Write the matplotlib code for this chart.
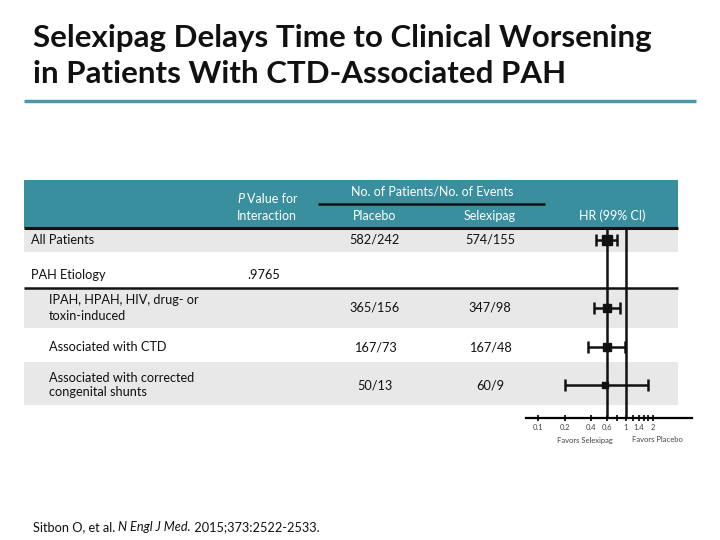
import matplotlib
matplotlib.use('Agg')
import matplotlib.pyplot as plt
from matplotlib.patches import Rectangle

plt.rcParams['font.family'] = ['Lato', 'DejaVu Sans']

# data
row_labels = ['All Patients', 'IPAH, HPAH, HIV, drug- or\ntoxin-induced',
              'Associated with CTD', 'Associated with corrected\ncongenital shunts']
placebo = ['582/242', '365/156', '167/73', '50/13']
selexipag = ['574/155', '347/98', '167/48', '60/9']
hr = [0.60, 0.61, 0.60, 0.58]
hr_lo = [0.45, 0.43, 0.37, 0.20]
hr_hi = [0.79, 0.86, 0.97, 1.79]
weight = [1.0, 0.62, 0.29, 0.10]
p_interaction = '.9765'
tick_vals = [0.1, 0.2, 0.4, 0.6, 0.8, 1, 1.2, 1.4, 1.6, 1.8, 2]
tick_labels = ['0.1', '0.2', '0.4', '0.6', '', '1', '', '1.4', '', '', '2']

# layout (pixels)
W, H = 720, 540
row_y = [240, 308, 347, 385]
teal = '#3a8f9e'
grey = '#e8e8e8'

fig = plt.figure(figsize=(7.2, 5.4), dpi=100)
bg = fig.add_axes([0, 0, 1, 1])
bg.set_xlim(0, W)
bg.set_ylim(H, 0)
bg.axis('off')

# title
bg.text(33, 47, 'Selexipag Delays Time to Clinical Worsening', fontsize=22.5,
        fontweight='bold', va='baseline', ha='left', color='#111111')
bg.text(33, 83, 'in Patients With CTD-Associated PAH', fontsize=22.5,
        fontweight='bold', va='baseline', ha='left', color='#111111')
bg.plot([24, 696], [101, 101], color='#4a9aa5', lw=2.5, solid_capstyle='butt')

# table background
bg.add_patch(Rectangle((24, 180), 654, 48, color=teal, lw=0))
for top, bot in [(228, 252), (288, 328), (362, 405)]:
    bg.add_patch(Rectangle((24, top), 654, bot - top, color=grey, lw=0))
bg.plot([24, 678], [228, 228], color='#111111', lw=2.2, solid_capstyle='butt')
bg.plot([24, 678], [288, 288], color='#111111', lw=1.8, solid_capstyle='butt')
bg.plot([318, 545], [204, 204], color='#111111', lw=1.8, solid_capstyle='butt')

# header text
hs = dict(color='white', fontsize=9, va='center')
bg.text(237, 199, 'P', style='italic', **hs)
bg.text(247, 199, 'Value for', **hs)
bg.text(237, 216, 'Interaction', ha='left', **hs)
bg.text(432, 192, 'No. of Patients/No. of Events', ha='center', **hs)
bg.text(375, 216, 'Placebo', ha='center', **hs)
bg.text(490, 216, 'Selexipag', ha='center', **hs)
bg.text(612, 216, 'HR (99% CI)', ha='center', **hs)

# rows
ts = dict(color='#111111', fontsize=9.2, va='center')
bg.text(31, row_y[0], row_labels[0], ha='left', **ts)
bg.text(31, 275, 'PAH Etiology', ha='left', **ts)
bg.text(247, 275, p_interaction, ha='left', **ts)
for i in range(len(row_labels)):
    if i > 0:
        bg.text(49, row_y[i], row_labels[i], ha='left', linespacing=1.3, **ts)
    bg.text(375, row_y[i], placebo[i], ha='center', **ts)
    bg.text(490, row_y[i], selexipag[i], ha='center', **ts)

# forest plot
ax = fig.add_axes([526 / W, 1 - 418 / H, (692 - 526) / W, (418 - 228) / H])
ax.set_facecolor('none')
ax.set_xscale('log')
ax.set_xlim(0.073, 5.62)
ax.set_ylim(418, 228)
for s in ['top', 'left', 'right']:
    ax.spines[s].set_visible(False)
ax.spines['bottom'].set_linewidth(1.6)
ax.set_yticks([])
ax.set_xticks(tick_vals)
ax.set_xticklabels(tick_labels)
ax.minorticks_off()
ax.tick_params(axis='x', length=4, width=1.2, direction='inout', labelsize=5.5,
               labelcolor='#444444', pad=2)
ax.axvline(1, color='#111111', lw=1.8)
ax.axvline(hr[0], color='#111111', lw=1.8)
for i in range(len(hr)):
    ax.errorbar(hr[i], row_y[i], xerr=[[hr[i] - hr_lo[i]], [hr_hi[i] - hr[i]]],
                fmt='none', ecolor='#111111', elinewidth=1.8, capsize=4, capthick=1.8)
    ax.plot(hr[i], row_y[i], 's', color='#111111', ms=3 + 4 * weight[i] ** 0.5)

bg.text(585, 440, 'Favors Selexipag', ha='center', va='center', fontsize=5.5, color='#444444')
bg.text(657, 440, 'Favors Placebo', ha='center', va='center', fontsize=5.5, color='#444444')

# footnote
fs = dict(fontsize=9.2, va='baseline', color='#111111')
t1 = bg.text(33, 531, 'Sitbon O, et al. ', ha='left', **fs)
fig.canvas.draw()
r = fig.canvas.get_renderer()
x = 33 + t1.get_window_extent(r).width
t2 = bg.text(x, 531, 'N Engl J Med.', style='italic', ha='left', **fs)
x += t2.get_window_extent(r).width
bg.text(x, 531, ' 2015;373:2522-2533.', ha='left', **fs)

fig.savefig('out.png', dpi=100)
